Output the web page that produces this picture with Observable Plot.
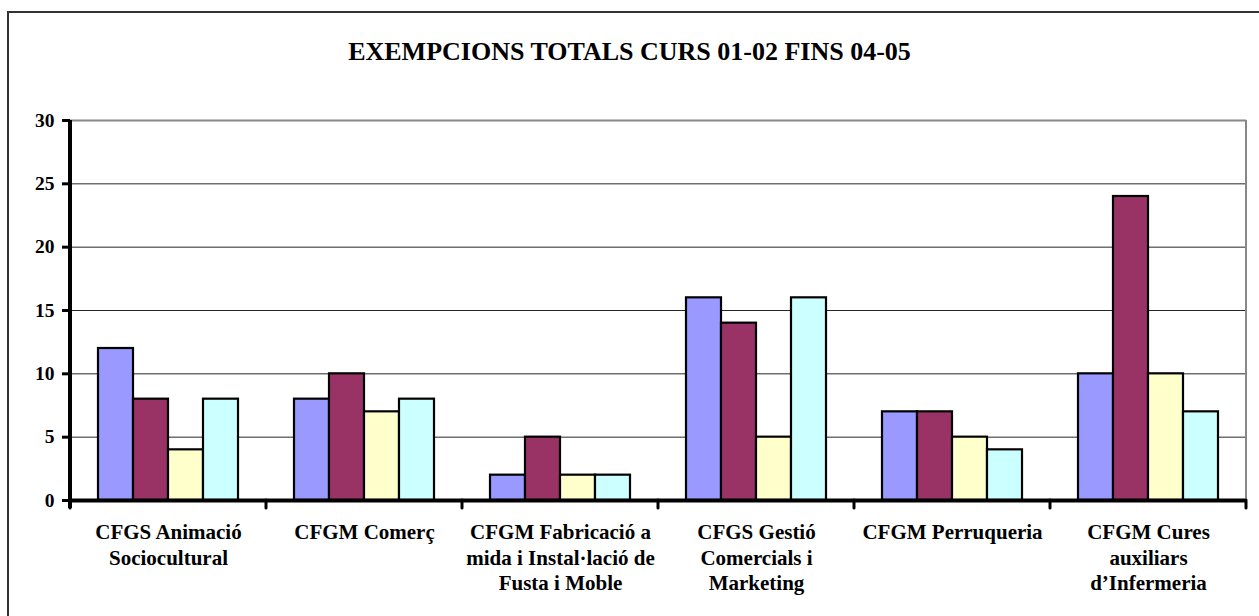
<!DOCTYPE html>
<html>
<head>
<meta charset="utf-8">
<script src="https://cdn.jsdelivr.net/npm/d3@7"></script>
<script src="https://cdn.jsdelivr.net/npm/@observablehq/plot@0.6"></script>
<style>
  html, body { margin: 0; padding: 0; background: #fff; overflow: hidden; }
  body { width: 1259px; height: 616px; position: relative; font-family: "Liberation Serif", "Times New Roman", serif; }
  #frame { position: absolute; left: 7px; top: 11px; width: 1400px; height: 800px; border-left: 2px solid #333; border-top: 2px solid #333; pointer-events: none; }
  #title { height: 90px; box-sizing: border-box; padding-top: 37px; line-height: 30px; text-align: center; font-size: 26px; font-weight: bold; color: #000; }
  #chart svg { display: block; }
</style>
</head>
<body>
<div id="frame"></div>
<div id="title">EXEMPCIONS TOTALS CURS 01-02 FINS 04-05</div>
<div id="chart"></div>
<script>
const categories = [
  "CFGS Animació Sociocultural",
  "CFGM Comerç",
  "CFGM Fabricació a mida i Instal·lació de Fusta i Moble",
  "CFGS Gestió Comercials i Marketing",
  "CFGM Perruqueria",
  "CFGM Cures auxiliars d’Infermeria"
];
const categoryLabels = [
  "CFGS Animació\nSociocultural",
  "CFGM Comerç",
  "CFGM Fabricació a\nmida i Instal·lació de\nFusta i Moble",
  "CFGS Gestió\nComercials i\nMarketing",
  "CFGM Perruqueria",
  "CFGM Cures\nauxiliars\nd’Infermeria"
];
const series = ["Curs 01-02", "Curs 02-03", "Curs 03-04", "Curs 04-05"];
const values0102 = [12, 8, 2, 16, 7, 10];
const values0203 = [8, 10, 5, 14, 7, 24];
const values0304 = [4, 7, 2, 5, 5, 10];
const values0405 = [8, 8, 2, 16, 4, 7];
const seriesColors = ["#9999FF", "#993366", "#FFFFCC", "#CCFFFF"];
const yTicks = [0, 5, 10, 15, 20, 25, 30];

const seriesValues = [values0102, values0203, values0304, values0405];
const rows = [];
categories.forEach((c, i) => {
  series.forEach((s, j) => rows.push({category: c, series: s, value: seriesValues[j][i]}));
});
const labelOf = new Map(categories.map((c, i) => [c, categoryLabels[i]]));

let facetCounter = 0;
function decorations(index, scales, values, dimensions) {
  facetCounter++;
  const r = scales.x && scales.x.range ? scales.x.range() : [dimensions.marginLeft, dimensions.width - dimensions.marginRight];
  const x0 = Math.min(r[0], r[1]), x1 = Math.max(r[0], r[1]);
  const y0 = scales.y(0), yTop = scales.y(30);
  const g = d3.create("svg:g");
  g.append("line").attr("x1", x0).attr("x2", x0).attr("y1", y0).attr("y2", y0 + 8)
    .attr("stroke", "#000").attr("stroke-width", 3).attr("stroke-linecap", "round");
  if (facetCounter === 1) {
    g.append("line").attr("x1", x0).attr("x2", x0).attr("y1", yTop).attr("y2", y0 + 8)
      .attr("stroke", "#000").attr("stroke-width", 4);
  }
  if (facetCounter === categories.length) {
    g.append("line").attr("x1", x1).attr("x2", x1).attr("y1", yTop).attr("y2", y0)
      .attr("stroke", "#888").attr("stroke-width", 2);
    g.append("line").attr("x1", x1).attr("x2", x1).attr("y1", y0).attr("y2", y0 + 8)
      .attr("stroke", "#000").attr("stroke-width", 3).attr("stroke-linecap", "round");
  }
  return g.node();
}

const chart = Plot.plot({
  width: 1259,
  height: 526,
  marginLeft: 68,
  marginRight: 11,
  marginTop: 30,
  marginBottom: 116,
  style: {fontFamily: "'Liberation Serif', 'Times New Roman', serif", color: "#000", background: "transparent"},
  fx: {domain: categories, padding: 0},
  x: {domain: series, paddingInner: 0, paddingOuter: 0.77, axis: null},
  y: {domain: [0, 30]},
  color: {domain: series, range: seriesColors},
  marks: [
    Plot.ruleY(yTicks.filter(t => t > 0 && t < 30), {stroke: "#000", strokeWidth: 1, strokeOpacity: 0.85}),
    Plot.ruleY([30], {stroke: "#888", strokeWidth: 2}),
    Plot.barY(rows, {fx: "category", x: "series", y: "value", fill: "series", stroke: "#000", strokeWidth: 2.2}),
    Plot.ruleY([0], {stroke: "#000", strokeWidth: 4}),
    decorations,
    Plot.axisY({ticks: yTicks, tickSize: 8, tickPadding: 8, strokeWidth: 3, fontSize: 19.5, fontWeight: "bold", label: null}),
    Plot.axisFx({anchor: "bottom", tickSize: 0, tickPadding: 21, label: null, fontSize: 21, fontWeight: "bold", lineHeight: 1.2, tickFormat: d => labelOf.get(d)})
  ]
});
document.getElementById("chart").appendChild(chart);
</script>
</body>
</html>
